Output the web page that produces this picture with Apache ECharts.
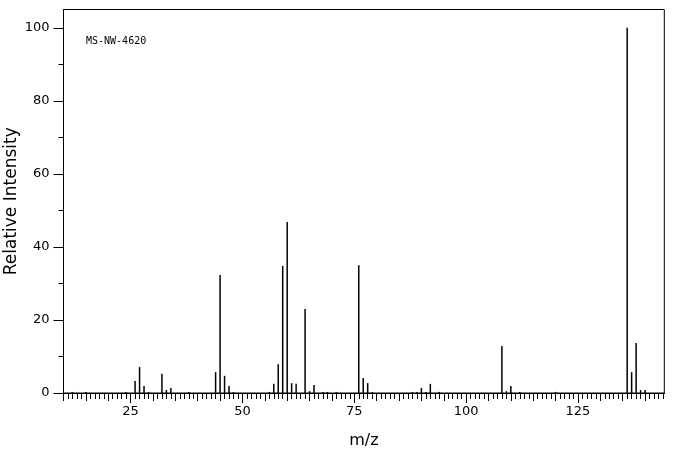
<!DOCTYPE html>
<html>
<head>
<meta charset="utf-8">
<script src="https://cdn.jsdelivr.net/npm/echarts@6/dist/echarts.min.js"></script>
<style>html,body{margin:0;padding:0;background:#fff}#c{width:676px;height:455px}</style>
</head>
<body>
<div id="c"></div>
<script>
// m/z values of the peaks
var mz = [12,15,24,26,27,28,29,32,33,34,38,44,45,46,47,48,56,57,58,59,60,61,62,64,65,66,68,69,71,76,77,78,79,88,89,90,91,92,94,108,109,110,112,120,136,137,138,139,140];
// relative intensities (%)
var intensity = [0.3,0.3,0.3,3.3,7.1,1.9,0.3,5.3,0.8,1.4,0.3,5.7,32.3,4.7,1.9,0.3,0.3,2.5,7.9,34.8,46.8,2.7,2.5,23.0,0.5,2.2,0.3,0.3,0.3,35.0,4.1,2.7,0.3,0.3,0.3,1.4,0.3,2.5,0.3,12.9,0.5,1.9,0.3,0.3,100,5.7,13.7,0.8,0.8];
var xMinorTicks = [];
for (var i = 10; i <= 144; i++) xMinorTicks.push(i);
var xMidTicks = [10,15,20,25,30,35,40,45,50,55,60,65,70,75,80,85,90,95,100,105,110,115,120,125,130,135,140];
var xLabels = [25,50,75,100,125];
var yMinorTicks = [0,10,20,30,40,50,60,70,80,90,100];
var yLabels = [0,20,40,60,80,100];
var specId = 'MS-NW-4620';

var X_MIN = 10, X_MAX = 144.3, Y_MIN = 0, Y_MAX = 105;
var font = 'DejaVu Sans';

function xAxis(ticks, len, labels, withName) {
  var a = {
    type: 'value', min: X_MIN, max: X_MAX, position: 'bottom',
    splitLine: {show: false},
    axisLine: {show: true, onZero: false, lineStyle: {color: '#000', width: 1}},
    axisTick: {show: true, length: len, customValues: ticks, lineStyle: {color: '#000', width: 1}},
    axisLabel: labels ? {show: true, customValues: labels, margin: 12, color: '#000', fontSize: 13, fontFamily: font} : {show: false}
  };
  if (withName) {
    a.name = 'm/z'; a.nameLocation = 'middle'; a.nameGap = 40; a.nameMoveOverlap = false;
    a.nameTextStyle = {color: '#000', fontSize: 16, fontFamily: font};
  }
  return a;
}
function yAxis(ticks, len, labels, withName) {
  var a = {
    type: 'value', min: Y_MIN, max: Y_MAX, position: 'left',
    splitLine: {show: false},
    axisLine: {show: true, onZero: false, lineStyle: {color: '#000', width: 1}},
    axisTick: {show: true, length: len, customValues: ticks, lineStyle: {color: '#000', width: 1}},
    axisLabel: labels ? {show: true, customValues: labels, margin: 14, color: '#000', fontSize: 13, fontFamily: font} : {show: false}
  };
  if (withName) {
    a.name = 'Relative Intensity'; a.nameLocation = 'middle'; a.nameGap = 43; a.nameMoveOverlap = false;
    a.nameTextStyle = {color: '#000', fontSize: 17, fontFamily: font};
  }
  return a;
}

var data = mz.map(function (m, i) { return [m, intensity[i]]; });

var chart = echarts.init(document.getElementById('c'), null, {renderer: 'canvas'});
chart.setOption({
  animation: false,
  backgroundColor: '#fff',
  title: {text: specId, left: 86, top: 36, padding: 0, textStyle: {fontSize: 10, fontWeight: 'normal', fontFamily: 'DejaVu Sans Mono', color: '#000'}},
  grid: {left: 63.5, right: 11.7, top: 9.5, bottom: 62, containLabel: false, outerBoundsMode: 'none', show: true, borderColor: '#000', borderWidth: 1, backgroundColor: 'transparent'},
  xAxis: [xAxis(xMinorTicks, 6, null, false), xAxis(xMidTicks, 8, null, false), xAxis(xLabels, 10, xLabels, true)],
  yAxis: [yAxis(yMinorTicks, 5, null, false), yAxis(yLabels, 10, yLabels, true)],
  series: [{
    type: 'bar', xAxisIndex: 0, yAxisIndex: 0, data: data,
    barWidth: 1.5, itemStyle: {color: '#000'}, silent: true
  }]
});
</script>
</body>
</html>
